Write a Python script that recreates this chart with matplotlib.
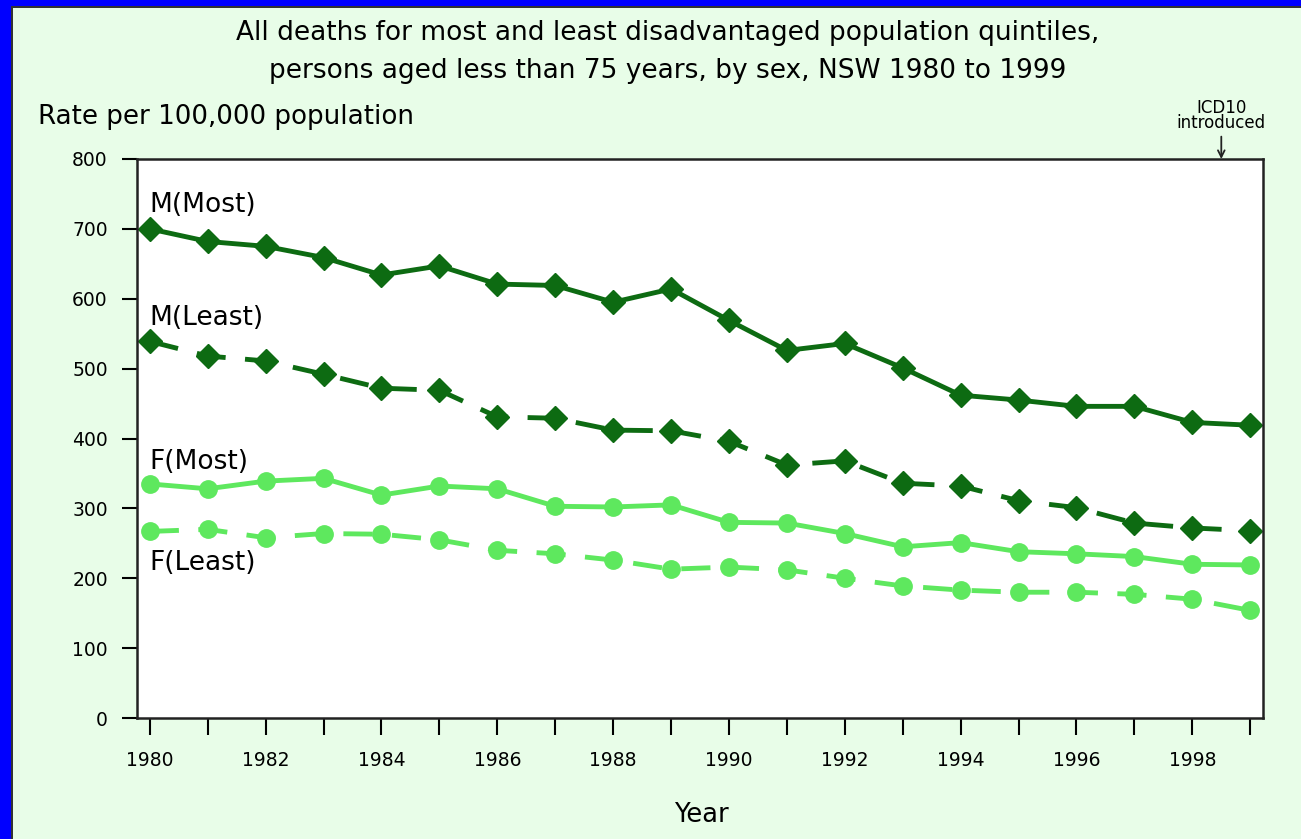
import matplotlib.pyplot as plt
from matplotlib.patches import Rectangle

years = list(range(1980, 2000))

m_most = [700, 682, 675, 659, 634, 647, 621, 619, 595, 614,
          569, 526, 536, 501, 462, 455, 446, 446, 423, 419]
m_least = [539, 518, 511, 492, 472, 469, 431, 429, 412, 411,
           396, 362, 368, 336, 332, 311, 301, 279, 272, 268]
f_most = [335, 328, 339, 343, 319, 332, 328, 303, 302, 305,
          280, 279, 264, 245, 251, 238, 235, 231, 220, 219]
f_least = [267, 270, 258, 264, 263, 255, 240, 235, 226, 213,
           216, 212, 200, 189, 183, 180, 180, 177, 170, 154]

dark = '#0d6b12'
light = '#5ee85e'
bg = '#e8fde8'

plt.rcParams['font.family'] = 'DejaVu Sans'

W, H = 1301, 839
fig = plt.figure(figsize=(W / 100, H / 100), dpi=100, facecolor=bg)
ax = fig.add_axes([137 / W, (H - 718) / H, (1263 - 137) / W, (718 - 159) / H])
ax.set_facecolor('white')

dash = (0, (6, 4))
ax.plot(years, m_most, color=dark, lw=3.5, marker='D', ms=12)
ax.plot(years, m_least, color=dark, lw=3.5, ls=dash, marker='D', ms=12)
ax.plot(years, f_most, color=light, lw=3.5, marker='o', ms=12.5)
ax.plot(years, f_least, color=light, lw=3.5, ls=dash, marker='o', ms=12.5)

ax.set_xlim(1979.78, 1999.22)
ax.set_ylim(0, 800)
ax.set_yticks(range(0, 801, 100))
ax.set_xticks(years)
ax.set_xticklabels([str(y) if y % 2 == 0 else '' for y in years])
ax.tick_params(axis='y', direction='out', length=11, width=1.5, pad=10, labelsize=13.5)
ax.tick_params(axis='x', direction='out', length=12, width=1.5, pad=12, labelsize=13.5)
for s in ax.spines.values():
    s.set_linewidth(1.8)
    s.set_color('#222222')

# series labels
ax.text(1980, 734, 'M(Most)', fontsize=19, ha='left', va='center')
ax.text(1980, 572, 'M(Least)', fontsize=19, ha='left', va='center')
ax.text(1980, 366, 'F(Most)', fontsize=19, ha='left', va='center')
ax.text(1980, 222, 'F(Least)', fontsize=19, ha='left', va='center')

# ICD10 marker
ax.annotate('ICD10\nintroduced', xy=(1998.5, 800), xytext=(1998.5, 838),
            ha='center', va='bottom', fontsize=12, linespacing=0.8,
            annotation_clip=False,
            arrowprops=dict(arrowstyle='->', color='#222222', lw=1.3,
                            shrinkA=1, shrinkB=0))

fig.text(668 / W, 1 - 33 / H,
         'All deaths for most and least disadvantaged population quintiles,',
         ha='center', va='center', fontsize=19)
fig.text(668 / W, 1 - 71 / H,
         'persons aged less than 75 years, by sex, NSW 1980 to 1999',
         ha='center', va='center', fontsize=19)
fig.text(38 / W, 1 - 117 / H, 'Rate per 100,000 population',
         ha='left', va='center', fontsize=18.8)
fig.text(701 / W, 1 - 815 / H, 'Year', ha='center', va='center', fontsize=18.5)

# blue frame on left and top
fig.patches.append(Rectangle((0, 0), 11 / W, 1, transform=fig.transFigure,
                             facecolor='#0000ff', edgecolor='none', zorder=5))
fig.patches.append(Rectangle((11 / W, 0), 2 / W, 1 - 6 / H, transform=fig.transFigure,
                             facecolor='#333333', edgecolor='none', zorder=5))
fig.patches.append(Rectangle((0, 1 - 6 / H), 1, 6 / H, transform=fig.transFigure,
                             facecolor='#0000ff', edgecolor='none', zorder=5))
fig.patches.append(Rectangle((11 / W, 1 - 8 / H), 1, 2 / H, transform=fig.transFigure,
                             facecolor='#333333', edgecolor='none', zorder=5))

fig.savefig('out.png', dpi=100, facecolor=bg)
